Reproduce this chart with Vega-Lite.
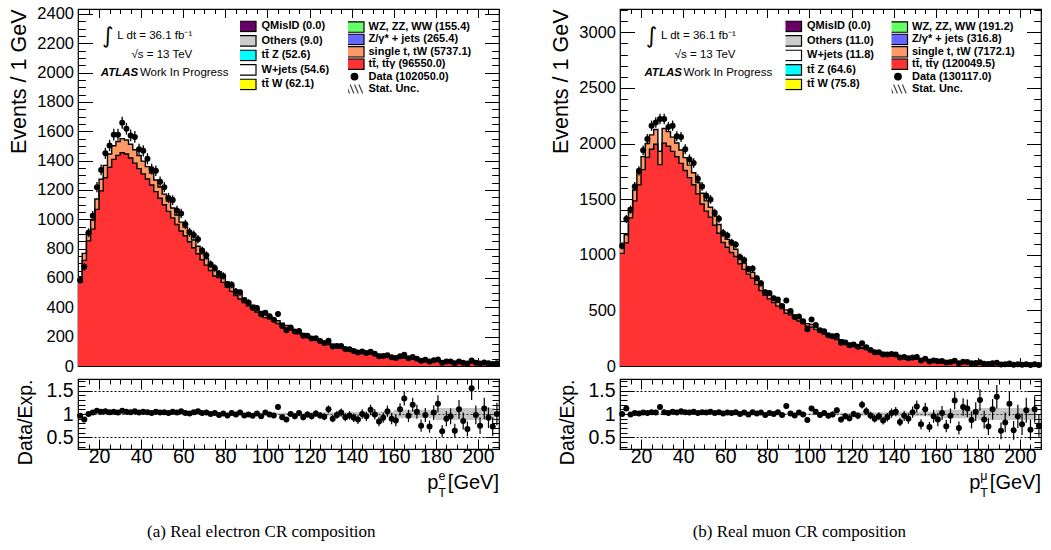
{
"$schema": "https://vega.github.io/schema/vega-lite/v6.json",
"background": "white",
"padding": {"left": 8, "top": 1, "right": 2, "bottom": 2},
"config": {
  "font": "Liberation Sans",
  "view": {"stroke": "black", "strokeWidth": 1.2},
  "axis": {"domain": false, "grid": false, "labelFont": "Liberation Sans", "titleFont": "Liberation Sans", "labelColor": "black", "titleColor": "black", "tickColor": "black", "tickWidth": 1, "labelOverlap": false, "labelFlush": false, "titleFontWeight": "normal"},
  "legend": {"labelFont": "Liberation Sans", "labelFontWeight": "bold", "labelFontSize": 11, "labelColor": "black", "symbolStrokeWidth": 1.2, "symbolOpacity": 1},
  "text": {"font": "Liberation Sans"}
},
"datasets": {
"ele": [
{"x":11,"tt":570,"tot":608,"d":584,"e":24,"r":0.96,"re":0.04,"lo":0.99,"hi":1.01},
{"x":13,"tt":720,"tot":768,"d":676,"e":26,"r":0.88,"re":0.034,"lo":0.99,"hi":1.01},
{"x":15,"tt":853,"tot":909,"d":909,"e":30,"r":1.0,"re":0.033,"lo":0.99,"hi":1.01},
{"x":17,"tt":933,"tot":995,"d":1025,"e":32,"r":1.03,"re":0.032,"lo":0.99,"hi":1.01},
{"x":19,"tt":1068,"tot":1139,"d":1219,"e":35,"r":1.07,"re":0.031,"lo":0.99,"hi":1.01},
{"x":21,"tt":1194,"tot":1273,"d":1337,"e":37,"r":1.05,"re":0.029,"lo":0.99,"hi":1.01},
{"x":23,"tt":1283,"tot":1368,"d":1450,"e":38,"r":1.06,"re":0.028,"lo":0.99,"hi":1.01},
{"x":25,"tt":1355,"tot":1445,"d":1503,"e":39,"r":1.04,"re":0.027,"lo":0.99,"hi":1.01},
{"x":27,"tt":1409,"tot":1502,"d":1577,"e":40,"r":1.05,"re":0.026,"lo":0.99,"hi":1.01},
{"x":29,"tt":1436,"tot":1531,"d":1577,"e":40,"r":1.03,"re":0.026,"lo":0.99,"hi":1.01},
{"x":31,"tt":1454,"tot":1550,"d":1659,"e":41,"r":1.07,"re":0.026,"lo":0.99,"hi":1.01},
{"x":33,"tt":1445,"tot":1541,"d":1618,"e":40,"r":1.05,"re":0.026,"lo":0.99,"hi":1.01},
{"x":35,"tt":1418,"tot":1512,"d":1572,"e":40,"r":1.04,"re":0.026,"lo":0.99,"hi":1.01},
{"x":37,"tt":1383,"tot":1474,"d":1562,"e":40,"r":1.06,"re":0.027,"lo":0.99,"hi":1.01},
{"x":39,"tt":1346,"tot":1435,"d":1478,"e":38,"r":1.03,"re":0.027,"lo":0.99,"hi":1.01},
{"x":41,"tt":1310,"tot":1397,"d":1467,"e":38,"r":1.05,"re":0.027,"lo":0.99,"hi":1.01},
{"x":43,"tt":1275,"tot":1359,"d":1413,"e":38,"r":1.04,"re":0.028,"lo":0.99,"hi":1.01},
{"x":45,"tt":1234,"tot":1316,"d":1342,"e":37,"r":1.02,"re":0.028,"lo":0.99,"hi":1.01},
{"x":47,"tt":1189,"tot":1268,"d":1331,"e":36,"r":1.05,"re":0.029,"lo":0.99,"hi":1.01},
{"x":49,"tt":1144,"tot":1220,"d":1257,"e":35,"r":1.03,"re":0.029,"lo":0.99,"hi":1.01},
{"x":51,"tt":1099,"tot":1172,"d":1219,"e":35,"r":1.04,"re":0.03,"lo":0.99,"hi":1.01},
{"x":53,"tt":1054,"tot":1124,"d":1146,"e":34,"r":1.02,"re":0.03,"lo":0.99,"hi":1.01},
{"x":55,"tt":1010,"tot":1077,"d":1131,"e":34,"r":1.05,"re":0.031,"lo":0.99,"hi":1.01},
{"x":57,"tt":965,"tot":1029,"d":1060,"e":33,"r":1.03,"re":0.032,"lo":0.99,"hi":1.01},
{"x":59,"tt":920,"tot":981,"d":1040,"e":32,"r":1.06,"re":0.033,"lo":0.99,"hi":1.01},
{"x":61,"tt":888,"tot":947,"d":966,"e":31,"r":1.02,"re":0.033,"lo":0.985,"hi":1.015},
{"x":63,"tt":847,"tot":903,"d":912,"e":30,"r":1.01,"re":0.033,"lo":0.985,"hi":1.015},
{"x":65,"tt":806,"tot":859,"d":893,"e":30,"r":1.04,"re":0.035,"lo":0.985,"hi":1.015},
{"x":67,"tt":765,"tot":816,"d":865,"e":29,"r":1.06,"re":0.036,"lo":0.985,"hi":1.015},
{"x":69,"tt":724,"tot":772,"d":787,"e":28,"r":1.02,"re":0.036,"lo":0.985,"hi":1.015},
{"x":71,"tt":688,"tot":733,"d":755,"e":27,"r":1.03,"re":0.037,"lo":0.985,"hi":1.015},
{"x":73,"tt":651,"tot":694,"d":694,"e":26,"r":1.0,"re":0.038,"lo":0.985,"hi":1.015},
{"x":75,"tt":614,"tot":655,"d":668,"e":26,"r":1.02,"re":0.039,"lo":0.985,"hi":1.015},
{"x":77,"tt":603,"tot":643,"d":630,"e":25,"r":0.98,"re":0.039,"lo":0.985,"hi":1.015},
{"x":79,"tt":570,"tot":608,"d":614,"e":25,"r":1.01,"re":0.041,"lo":0.985,"hi":1.015},
{"x":81,"tt":537,"tot":573,"d":556,"e":24,"r":0.97,"re":0.041,"lo":0.985,"hi":1.015},
{"x":83,"tt":509,"tot":543,"d":554,"e":24,"r":1.02,"re":0.043,"lo":0.985,"hi":1.015},
{"x":85,"tt":481,"tot":513,"d":508,"e":23,"r":0.99,"re":0.044,"lo":0.985,"hi":1.015},
{"x":87,"tt":457,"tot":487,"d":502,"e":22,"r":1.03,"re":0.046,"lo":0.985,"hi":1.015},
{"x":89,"tt":433,"tot":462,"d":448,"e":21,"r":0.97,"re":0.046,"lo":0.985,"hi":1.015},
{"x":91,"tt":410,"tot":437,"d":433,"e":21,"r":0.99,"re":0.048,"lo":0.985,"hi":1.015},
{"x":93,"tt":388,"tot":414,"d":397,"e":20,"r":0.96,"re":0.048,"lo":0.985,"hi":1.015},
{"x":95,"tt":368,"tot":392,"d":396,"e":20,"r":1.01,"re":0.051,"lo":0.985,"hi":1.015},
{"x":97,"tt":349,"tot":372,"d":353,"e":19,"r":0.95,"re":0.051,"lo":0.985,"hi":1.015},
{"x":99,"tt":330,"tot":352,"d":363,"e":19,"r":1.03,"re":0.054,"lo":0.985,"hi":1.015},
{"x":101,"tt":321,"tot":342,"d":339,"e":18,"r":0.99,"re":0.054,"lo":0.975,"hi":1.025},
{"x":103,"tt":305,"tot":325,"d":315,"e":18,"r":0.97,"re":0.055,"lo":0.975,"hi":1.025},
{"x":105,"tt":290,"tot":309,"d":355,"e":19,"r":1.15,"re":0.061,"lo":0.975,"hi":1.025},
{"x":107,"tt":274,"tot":292,"d":272,"e":16,"r":0.93,"re":0.056,"lo":0.975,"hi":1.025},
{"x":109,"tt":259,"tot":276,"d":243,"e":16,"r":0.88,"re":0.056,"lo":0.975,"hi":1.025},
{"x":111,"tt":246,"tot":262,"d":262,"e":16,"r":1.0,"re":0.062,"lo":0.975,"hi":1.025},
{"x":113,"tt":232,"tot":247,"d":235,"e":15,"r":0.95,"re":0.062,"lo":0.975,"hi":1.025},
{"x":115,"tt":219,"tot":234,"d":239,"e":15,"r":1.02,"re":0.066,"lo":0.975,"hi":1.025},
{"x":117,"tt":208,"tot":222,"d":206,"e":14,"r":0.93,"re":0.065,"lo":0.975,"hi":1.025},
{"x":119,"tt":196,"tot":209,"d":207,"e":14,"r":0.99,"re":0.069,"lo":0.975,"hi":1.025},
{"x":121,"tt":186,"tot":198,"d":188,"e":14,"r":0.95,"re":0.069,"lo":0.965,"hi":1.035},
{"x":123,"tt":175,"tot":187,"d":189,"e":14,"r":1.01,"re":0.073,"lo":0.965,"hi":1.035},
{"x":125,"tt":165,"tot":176,"d":171,"e":13,"r":0.97,"re":0.074,"lo":0.965,"hi":1.035},
{"x":127,"tt":156,"tot":166,"d":156,"e":12,"r":0.94,"re":0.075,"lo":0.965,"hi":1.035},
{"x":129,"tt":147,"tot":157,"d":173,"e":13,"r":1.1,"re":0.084,"lo":0.965,"hi":1.035},
{"x":131,"tt":139,"tot":148,"d":133,"e":12,"r":0.9,"re":0.078,"lo":0.965,"hi":1.035},
{"x":133,"tt":131,"tot":140,"d":137,"e":12,"r":0.98,"re":0.084,"lo":0.965,"hi":1.035},
{"x":135,"tt":124,"tot":132,"d":136,"e":12,"r":1.03,"re":0.088,"lo":0.965,"hi":1.035},
{"x":137,"tt":117,"tot":125,"d":116,"e":11,"r":0.93,"re":0.086,"lo":0.965,"hi":1.035},
{"x":139,"tt":111,"tot":118,"d":114,"e":11,"r":0.97,"re":0.091,"lo":0.965,"hi":1.035},
{"x":141,"tt":104,"tot":111,"d":102,"e":10,"r":0.92,"re":0.091,"lo":0.95,"hi":1.05},
{"x":143,"tt":98,"tot":105,"d":92,"e":10,"r":0.88,"re":0.092,"lo":0.95,"hi":1.05},
{"x":145,"tt":93,"tot":99,"d":99,"e":10,"r":1.0,"re":0.1,"lo":0.95,"hi":1.05},
{"x":147,"tt":88,"tot":94,"d":89,"e":9,"r":0.95,"re":0.1,"lo":0.95,"hi":1.05},
{"x":149,"tt":83,"tot":89,"d":97,"e":10,"r":1.09,"re":0.11,"lo":0.95,"hi":1.05},
{"x":151,"tt":79,"tot":84,"d":83,"e":9,"r":0.99,"re":0.11,"lo":0.95,"hi":1.05},
{"x":153,"tt":74,"tot":79,"d":66,"e":8,"r":0.84,"re":0.1,"lo":0.95,"hi":1.05},
{"x":155,"tt":69,"tot":74,"d":68,"e":8,"r":0.92,"re":0.11,"lo":0.95,"hi":1.05},
{"x":157,"tt":66,"tot":70,"d":74,"e":9,"r":1.06,"re":0.12,"lo":0.95,"hi":1.05},
{"x":159,"tt":62,"tot":66,"d":59,"e":8,"r":0.9,"re":0.12,"lo":0.95,"hi":1.05},
{"x":161,"tt":60,"tot":64,"d":55,"e":7,"r":0.86,"re":0.12,"lo":0.91,"hi":1.09},
{"x":163,"tt":57,"tot":61,"d":67,"e":8,"r":1.1,"re":0.13,"lo":0.91,"hi":1.09},
{"x":165,"tt":54,"tot":58,"d":77,"e":9,"r":1.33,"re":0.15,"lo":0.91,"hi":1.09},
{"x":167,"tt":52,"tot":55,"d":53,"e":7,"r":0.96,"re":0.13,"lo":0.91,"hi":1.09},
{"x":169,"tt":49,"tot":52,"d":62,"e":8,"r":1.2,"re":0.15,"lo":0.91,"hi":1.09},
{"x":171,"tt":45,"tot":48,"d":50,"e":7,"r":1.05,"re":0.15,"lo":0.91,"hi":1.09},
{"x":173,"tt":43,"tot":46,"d":35,"e":6,"r":0.75,"re":0.13,"lo":0.91,"hi":1.09},
{"x":175,"tt":40,"tot":43,"d":42,"e":6,"r":0.98,"re":0.15,"lo":0.91,"hi":1.09},
{"x":177,"tt":38,"tot":41,"d":30,"e":5,"r":0.73,"re":0.13,"lo":0.91,"hi":1.09},
{"x":179,"tt":37,"tot":39,"d":40,"e":6,"r":1.03,"re":0.16,"lo":0.91,"hi":1.09},
{"x":181,"tt":35,"tot":37,"d":45,"e":7,"r":1.22,"re":0.18,"lo":0.87,"hi":1.13},
{"x":183,"tt":33,"tot":35,"d":22,"e":5,"r":0.63,"re":0.13,"lo":0.87,"hi":1.13},
{"x":185,"tt":31,"tot":33,"d":30,"e":5,"r":0.9,"re":0.16,"lo":0.87,"hi":1.13},
{"x":187,"tt":30,"tot":32,"d":30,"e":5,"r":0.95,"re":0.17,"lo":0.87,"hi":1.13},
{"x":189,"tt":27,"tot":29,"d":19,"e":4,"r":0.64,"re":0.15,"lo":0.87,"hi":1.13},
{"x":191,"tt":26,"tot":28,"d":31,"e":6,"r":1.1,"re":0.2,"lo":0.87,"hi":1.13},
{"x":193,"tt":24,"tot":26,"d":22,"e":5,"r":0.85,"re":0.18,"lo":0.87,"hi":1.13},
{"x":195,"tt":23,"tot":25,"d":17,"e":4,"r":0.68,"re":0.16,"lo":0.87,"hi":1.13},
{"x":197,"tt":23,"tot":24,"d":37,"e":6,"r":1.55,"re":0.25,"lo":0.87,"hi":1.13},
{"x":199,"tt":22,"tot":23,"d":23,"e":5,"r":0.98,"re":0.2,"lo":0.87,"hi":1.13},
{"x":201,"tt":21,"tot":22,"d":17,"e":4,"r":0.75,"re":0.18,"lo":0.87,"hi":1.13},
{"x":203,"tt":20,"tot":21,"d":24,"e":5,"r":1.12,"re":0.23,"lo":0.87,"hi":1.13},
{"x":205,"tt":19,"tot":20,"d":18,"e":4,"r":0.92,"re":0.22,"lo":0.87,"hi":1.13},
{"x":207,"tt":18,"tot":19,"d":14,"e":4,"r":0.73,"re":0.2,"lo":0.87,"hi":1.13},
{"x":209,"tt":17,"tot":18,"d":18,"e":4,"r":1.0,"re":0.24,"lo":0.87,"hi":1.13}
],
"mu": [
{"x":11,"tt":1013,"tot":1080,"d":1080,"e":33,"r":1.0,"re":0.03,"lo":0.99,"hi":1.01},
{"x":13,"tt":1107,"tot":1180,"d":1322,"e":36,"r":1.12,"re":0.031,"lo":0.99,"hi":1.01},
{"x":15,"tt":1332,"tot":1420,"d":1406,"e":37,"r":0.99,"re":0.026,"lo":0.99,"hi":1.01},
{"x":17,"tt":1485,"tot":1583,"d":1615,"e":40,"r":1.02,"re":0.025,"lo":0.99,"hi":1.01},
{"x":19,"tt":1630,"tot":1738,"d":1755,"e":42,"r":1.01,"re":0.024,"lo":0.99,"hi":1.01},
{"x":21,"tt":1766,"tot":1883,"d":1939,"e":44,"r":1.03,"re":0.023,"lo":0.99,"hi":1.01},
{"x":23,"tt":1876,"tot":2000,"d":2040,"e":45,"r":1.02,"re":0.023,"lo":0.99,"hi":1.01},
{"x":25,"tt":1949,"tot":2078,"d":2161,"e":46,"r":1.04,"re":0.022,"lo":0.99,"hi":1.01},
{"x":27,"tt":1994,"tot":2126,"d":2190,"e":47,"r":1.03,"re":0.022,"lo":0.99,"hi":1.01},
{"x":29,"tt":1811,"tot":1931,"d":2221,"e":47,"r":1.15,"re":0.024,"lo":0.99,"hi":1.01},
{"x":31,"tt":2004,"tot":2136,"d":2221,"e":47,"r":1.04,"re":0.022,"lo":0.99,"hi":1.01},
{"x":33,"tt":1976,"tot":2107,"d":2149,"e":46,"r":1.02,"re":0.022,"lo":0.99,"hi":1.01},
{"x":35,"tt":1930,"tot":2058,"d":2161,"e":46,"r":1.05,"re":0.023,"lo":0.99,"hi":1.01},
{"x":37,"tt":1881,"tot":2005,"d":2065,"e":45,"r":1.03,"re":0.023,"lo":0.99,"hi":1.01},
{"x":39,"tt":1822,"tot":1942,"d":2059,"e":45,"r":1.06,"re":0.023,"lo":0.99,"hi":1.01},
{"x":41,"tt":1758,"tot":1874,"d":1949,"e":44,"r":1.04,"re":0.024,"lo":0.99,"hi":1.01},
{"x":43,"tt":1694,"tot":1806,"d":1860,"e":43,"r":1.03,"re":0.024,"lo":0.99,"hi":1.01},
{"x":45,"tt":1630,"tot":1738,"d":1825,"e":43,"r":1.05,"re":0.025,"lo":0.99,"hi":1.01},
{"x":47,"tt":1548,"tot":1650,"d":1683,"e":41,"r":1.02,"re":0.025,"lo":0.99,"hi":1.01},
{"x":49,"tt":1457,"tot":1553,"d":1615,"e":40,"r":1.04,"re":0.026,"lo":0.99,"hi":1.01},
{"x":51,"tt":1393,"tot":1485,"d":1530,"e":39,"r":1.03,"re":0.026,"lo":0.99,"hi":1.01},
{"x":53,"tt":1339,"tot":1427,"d":1498,"e":39,"r":1.05,"re":0.027,"lo":0.99,"hi":1.01},
{"x":55,"tt":1266,"tot":1350,"d":1377,"e":37,"r":1.02,"re":0.027,"lo":0.99,"hi":1.01},
{"x":57,"tt":1193,"tot":1272,"d":1323,"e":36,"r":1.04,"re":0.029,"lo":0.99,"hi":1.01},
{"x":59,"tt":1111,"tot":1184,"d":1196,"e":35,"r":1.01,"re":0.029,"lo":0.99,"hi":1.01},
{"x":61,"tt":1068,"tot":1139,"d":1173,"e":34,"r":1.03,"re":0.03,"lo":0.985,"hi":1.015},
{"x":63,"tt":1021,"tot":1089,"d":1111,"e":33,"r":1.02,"re":0.031,"lo":0.985,"hi":1.015},
{"x":65,"tt":985,"tot":1050,"d":1092,"e":33,"r":1.04,"re":0.031,"lo":0.985,"hi":1.015},
{"x":67,"tt":919,"tot":980,"d":980,"e":31,"r":1.0,"re":0.032,"lo":0.985,"hi":1.015},
{"x":69,"tt":869,"tot":926,"d":954,"e":31,"r":1.03,"re":0.033,"lo":0.985,"hi":1.015},
{"x":71,"tt":826,"tot":881,"d":872,"e":30,"r":0.99,"re":0.034,"lo":0.985,"hi":1.015},
{"x":73,"tt":790,"tot":842,"d":876,"e":30,"r":1.04,"re":0.035,"lo":0.985,"hi":1.015},
{"x":75,"tt":734,"tot":782,"d":790,"e":28,"r":1.01,"re":0.036,"lo":0.985,"hi":1.015},
{"x":77,"tt":678,"tot":723,"d":745,"e":27,"r":1.03,"re":0.038,"lo":0.985,"hi":1.015},
{"x":79,"tt":636,"tot":678,"d":664,"e":26,"r":0.98,"re":0.038,"lo":0.985,"hi":1.015},
{"x":81,"tt":604,"tot":644,"d":657,"e":26,"r":1.02,"re":0.04,"lo":0.985,"hi":1.015},
{"x":83,"tt":571,"tot":609,"d":609,"e":25,"r":1.0,"re":0.041,"lo":0.985,"hi":1.015},
{"x":85,"tt":538,"tot":574,"d":597,"e":24,"r":1.04,"re":0.043,"lo":0.985,"hi":1.015},
{"x":87,"tt":516,"tot":550,"d":539,"e":23,"r":0.98,"re":0.042,"lo":0.985,"hi":1.015},
{"x":89,"tt":474,"tot":505,"d":590,"e":24,"r":1.17,"re":0.048,"lo":0.985,"hi":1.015},
{"x":91,"tt":460,"tot":490,"d":495,"e":22,"r":1.01,"re":0.045,"lo":0.985,"hi":1.015},
{"x":93,"tt":427,"tot":455,"d":441,"e":21,"r":0.97,"re":0.046,"lo":0.985,"hi":1.015},
{"x":95,"tt":404,"tot":431,"d":444,"e":21,"r":1.03,"re":0.049,"lo":0.985,"hi":1.015},
{"x":97,"tt":381,"tot":406,"d":402,"e":20,"r":0.99,"re":0.049,"lo":0.985,"hi":1.015},
{"x":99,"tt":357,"tot":381,"d":331,"e":18,"r":0.87,"re":0.048,"lo":0.985,"hi":1.015},
{"x":101,"tt":350,"tot":373,"d":418,"e":20,"r":1.12,"re":0.055,"lo":0.975,"hi":1.025},
{"x":103,"tt":329,"tot":351,"d":369,"e":19,"r":1.05,"re":0.055,"lo":0.975,"hi":1.025},
{"x":105,"tt":308,"tot":328,"d":321,"e":18,"r":0.98,"re":0.055,"lo":0.975,"hi":1.025},
{"x":107,"tt":288,"tot":307,"d":313,"e":18,"r":1.02,"re":0.058,"lo":0.975,"hi":1.025},
{"x":109,"tt":271,"tot":289,"d":277,"e":17,"r":0.96,"re":0.058,"lo":0.975,"hi":1.025},
{"x":111,"tt":253,"tot":270,"d":267,"e":16,"r":0.99,"re":0.061,"lo":0.975,"hi":1.025},
{"x":113,"tt":237,"tot":253,"d":273,"e":17,"r":1.08,"re":0.065,"lo":0.975,"hi":1.025},
{"x":115,"tt":222,"tot":237,"d":209,"e":14,"r":0.88,"re":0.061,"lo":0.975,"hi":1.025},
{"x":117,"tt":208,"tot":222,"d":211,"e":15,"r":0.95,"re":0.065,"lo":0.975,"hi":1.025},
{"x":119,"tt":193,"tot":206,"d":187,"e":14,"r":0.91,"re":0.067,"lo":0.975,"hi":1.025},
{"x":121,"tt":182,"tot":194,"d":194,"e":14,"r":1.0,"re":0.072,"lo":0.965,"hi":1.035},
{"x":123,"tt":170,"tot":181,"d":174,"e":13,"r":0.96,"re":0.073,"lo":0.965,"hi":1.035},
{"x":125,"tt":159,"tot":170,"d":204,"e":14,"r":1.2,"re":0.084,"lo":0.965,"hi":1.035},
{"x":127,"tt":149,"tot":159,"d":169,"e":13,"r":1.06,"re":0.082,"lo":0.965,"hi":1.035},
{"x":129,"tt":139,"tot":148,"d":144,"e":12,"r":0.97,"re":0.081,"lo":0.965,"hi":1.035},
{"x":131,"tt":129,"tot":138,"d":124,"e":11,"r":0.9,"re":0.081,"lo":0.965,"hi":1.035},
{"x":133,"tt":121,"tot":129,"d":123,"e":11,"r":0.95,"re":0.086,"lo":0.965,"hi":1.035},
{"x":135,"tt":114,"tot":121,"d":104,"e":10,"r":0.86,"re":0.084,"lo":0.965,"hi":1.035},
{"x":137,"tt":105,"tot":112,"d":104,"e":10,"r":0.93,"re":0.091,"lo":0.965,"hi":1.035},
{"x":139,"tt":98,"tot":105,"d":107,"e":10,"r":1.02,"re":0.099,"lo":0.965,"hi":1.035},
{"x":141,"tt":92,"tot":98,"d":103,"e":10,"r":1.05,"re":0.1,"lo":0.95,"hi":1.05},
{"x":143,"tt":85,"tot":91,"d":76,"e":9,"r":0.83,"re":0.095,"lo":0.95,"hi":1.05},
{"x":145,"tt":80,"tot":85,"d":82,"e":9,"r":0.96,"re":0.11,"lo":0.95,"hi":1.05},
{"x":147,"tt":73,"tot":78,"d":70,"e":8,"r":0.9,"re":0.11,"lo":0.95,"hi":1.05},
{"x":149,"tt":68,"tot":73,"d":76,"e":9,"r":1.04,"re":0.12,"lo":0.95,"hi":1.05},
{"x":151,"tt":65,"tot":69,"d":80,"e":9,"r":1.16,"re":0.13,"lo":0.95,"hi":1.05},
{"x":153,"tt":60,"tot":64,"d":50,"e":7,"r":0.78,"re":0.11,"lo":0.95,"hi":1.05},
{"x":155,"tt":56,"tot":60,"d":66,"e":8,"r":1.1,"re":0.14,"lo":0.95,"hi":1.05},
{"x":157,"tt":53,"tot":56,"d":40,"e":6,"r":0.72,"re":0.11,"lo":0.95,"hi":1.05},
{"x":159,"tt":49,"tot":52,"d":49,"e":7,"r":0.95,"re":0.14,"lo":0.95,"hi":1.05},
{"x":161,"tt":45,"tot":48,"d":42,"e":6,"r":0.88,"re":0.14,"lo":0.91,"hi":1.09},
{"x":163,"tt":42,"tot":45,"d":46,"e":7,"r":1.02,"re":0.15,"lo":0.91,"hi":1.09},
{"x":165,"tt":39,"tot":42,"d":31,"e":6,"r":0.74,"re":0.13,"lo":0.91,"hi":1.09},
{"x":167,"tt":37,"tot":39,"d":37,"e":6,"r":0.96,"re":0.16,"lo":0.91,"hi":1.09},
{"x":169,"tt":35,"tot":37,"d":48,"e":7,"r":1.29,"re":0.19,"lo":0.91,"hi":1.09},
{"x":171,"tt":33,"tot":35,"d":25,"e":5,"r":0.7,"re":0.14,"lo":0.91,"hi":1.09},
{"x":173,"tt":31,"tot":33,"d":38,"e":6,"r":1.15,"re":0.19,"lo":0.91,"hi":1.09},
{"x":175,"tt":29,"tot":31,"d":35,"e":6,"r":1.12,"re":0.19,"lo":0.91,"hi":1.09},
{"x":177,"tt":26,"tot":28,"d":24,"e":5,"r":0.87,"re":0.18,"lo":0.91,"hi":1.09},
{"x":179,"tt":25,"tot":27,"d":28,"e":5,"r":1.05,"re":0.2,"lo":0.91,"hi":1.09},
{"x":181,"tt":23,"tot":25,"d":33,"e":6,"r":1.3,"re":0.23,"lo":0.87,"hi":1.13},
{"x":183,"tt":23,"tot":24,"d":21,"e":5,"r":0.88,"re":0.19,"lo":0.87,"hi":1.13},
{"x":185,"tt":22,"tot":23,"d":17,"e":4,"r":0.73,"re":0.18,"lo":0.87,"hi":1.13},
{"x":187,"tt":21,"tot":22,"d":24,"e":5,"r":1.1,"re":0.22,"lo":0.87,"hi":1.13},
{"x":189,"tt":20,"tot":21,"d":29,"e":5,"r":1.37,"re":0.25,"lo":0.87,"hi":1.13},
{"x":191,"tt":19,"tot":20,"d":13,"e":4,"r":0.64,"re":0.18,"lo":0.87,"hi":1.13},
{"x":193,"tt":18,"tot":19,"d":16,"e":4,"r":0.82,"re":0.21,"lo":0.87,"hi":1.13},
{"x":195,"tt":17,"tot":18,"d":22,"e":5,"r":1.22,"re":0.26,"lo":0.87,"hi":1.13},
{"x":197,"tt":16,"tot":17,"d":11,"e":3,"r":0.65,"re":0.2,"lo":0.87,"hi":1.13},
{"x":199,"tt":15,"tot":16,"d":15,"e":4,"r":0.95,"re":0.25,"lo":0.87,"hi":1.13},
{"x":201,"tt":15,"tot":16,"d":12,"e":3,"r":0.78,"re":0.23,"lo":0.87,"hi":1.13},
{"x":203,"tt":14,"tot":15,"d":16,"e":4,"r":1.08,"re":0.27,"lo":0.87,"hi":1.13},
{"x":205,"tt":13,"tot":14,"d":9,"e":3,"r":0.66,"re":0.22,"lo":0.87,"hi":1.13},
{"x":207,"tt":13,"tot":14,"d":15,"e":4,"r":1.1,"re":0.28,"lo":0.87,"hi":1.13},
{"x":209,"tt":12,"tot":13,"d":10,"e":3,"r":0.75,"re":0.24,"lo":0.87,"hi":1.13}
],
"legAe": [{"lab": "QMisID (0.0)"}, {"lab": "Others (9.0)"}, {"lab": "tt\u0304 Z (52.6)"}, {"lab": "W+jets (54.6)"}, {"lab": "tt\u0304 W (62.1)"}],
"legBe": [{"lab": "WZ, ZZ, WW (155.4)"}, {"lab": "Z/γ* + jets (265.4)"}, {"lab": "single t, tW (5737.1)"}, {"lab": "tt\u0304, tt\u0304γ (96550.0)"}, {"lab": "Data (102050.0)"}, {"lab": "Stat. Unc."}],
"legAm": [{"lab": "QMisID (0.0)"}, {"lab": "Others (11.0)"}, {"lab": "W+jets (11.8)"}, {"lab": "tt\u0304 Z (64.6)"}, {"lab": "tt\u0304 W (75.8)"}],
"legBm": [{"lab": "WZ, ZZ, WW (191.2)"}, {"lab": "Z/γ* + jets (316.8)"}, {"lab": "single t, tW (7172.1)"}, {"lab": "tt\u0304, tt\u0304γ (120049.5)"}, {"lab": "Data (130117.0)"}, {"lab": "Stat. Unc."}]
},
"spacing": 49,
"hconcat": [
{
 "spacing": -6,
 "title": {"text": "(a) Real electron CR composition", "orient": "bottom", "anchor": "middle", "font": "Liberation Serif", "fontSize": 17, "fontWeight": "normal", "color": "black", "offset": 24, "dx": 7},
 "vconcat": [
  {
   "width": 421, "height": 357,
   "data": {"name": "ele"},
   "resolve": {"scale": {"fill": "independent", "stroke": "independent", "shape": "independent"}, "axis": {"x": "independent", "y": "independent"}},
   "layer": [
    {"mark": {"type": "area", "interpolate": "step-after", "xOffset": -2.105, "color": "#ff9966"},
     "encoding": {
      "x": {"field": "x", "type": "quantitative", "scale": {"domain": [10, 210], "nice": false, "zero": false},
            "axis": {"orient": "top", "values": [10,15,20,25,30,35,40,45,50,55,60,65,70,75,80,85,90,95,100,105,110,115,120,125,130,135,140,145,150,155,160,165,170,175,180,185,190,195,200,205,210], "labels": false, "title": null, "minExtent": 0, "maxExtent": 0, "tickSize": {"condition": {"test": "datum.value % 20 === 0", "value": -8.5}, "value": -4.5}}},
      "y": {"field": "tot", "type": "quantitative", "scale": {"domain": [0, 2434], "nice": false},
            "axis": {"orient": "right", "values": [0,50,100,150,200,250,300,350,400,450,500,550,600,650,700,750,800,850,900,950,1000,1050,1100,1150,1200,1250,1300,1350,1400,1450,1500,1550,1600,1650,1700,1750,1800,1850,1900,1950,2000,2050,2100,2150,2200,2250,2300,2350,2400], "labels": false, "title": null, "minExtent": 0, "maxExtent": 0, "tickSize": {"condition": {"test": "datum.value % 200 === 0", "value": -14.5}, "value": -7.3}}}
     }},
    {"mark": {"type": "area", "interpolate": "step-after", "xOffset": -2.105, "color": "#ff3333"},
     "encoding": {
      "x": {"field": "x", "type": "quantitative",
            "axis": {"orient": "bottom", "values": [10,15,20,25,30,35,40,45,50,55,60,65,70,75,80,85,90,95,100,105,110,115,120,125,130,135,140,145,150,155,160,165,170,175,180,185,190,195,200,205,210], "labels": false, "title": null, "minExtent": 0, "maxExtent": 0, "tickSize": {"condition": {"test": "datum.value % 20 === 0", "value": -8.5}, "value": -4.5}}},
      "y": {"field": "tt", "type": "quantitative",
            "axis": {"orient": "left", "values": [0,50,100,150,200,250,300,350,400,450,500,550,600,650,700,750,800,850,900,950,1000,1050,1100,1150,1200,1250,1300,1350,1400,1450,1500,1550,1600,1650,1700,1750,1800,1850,1900,1950,2000,2050,2100,2150,2200,2250,2300,2350,2400], "format": "d", "labelExpr": "datum.value % 200 === 0 ? datum.label : ''", "tickSize": {"condition": {"test": "datum.value % 200 === 0", "value": -14.5}, "value": -7.3}, "labelPadding": 19, "labelFontSize": 16.5, "title": "Events / 1 GeV", "titleFontSize": 21.5, "titleAnchor": "end", "titlePadding": 6}}
     }},
    {"mark": {"type": "line", "interpolate": "step-after", "xOffset": -2.105, "color": "black", "strokeWidth": 1.4},
     "encoding": {"x": {"field": "x", "type": "quantitative", "axis": null}, "y": {"field": "tt", "type": "quantitative", "axis": null}}},
    {"mark": {"type": "line", "interpolate": "step-after", "xOffset": -2.105, "color": "black", "strokeWidth": 1.4},
     "encoding": {"x": {"field": "x", "type": "quantitative", "axis": null}, "y": {"field": "tot", "type": "quantitative", "axis": null}}},
    {"mark": {"type": "errorbar", "color": "black", "thickness": 1.3},
     "encoding": {"x": {"field": "x", "type": "quantitative", "axis": null}, "y": {"field": "d", "type": "quantitative", "axis": null}, "yError": {"field": "e"}}},
    {"mark": {"type": "point", "filled": true, "color": "black", "size": 36, "opacity": 1},
     "encoding": {"x": {"field": "x", "type": "quantitative", "axis": null}, "y": {"field": "d", "type": "quantitative", "axis": null}}},
    {"data": {"values": [{}]},
     "mark": {"type": "text", "text": "∫", "fontSize": 22, "font": "DejaVu Sans", "align": "center", "baseline": "middle", "fill": "black"},
     "encoding": {"x": {"datum": 24.1, "axis": null}, "y": {"datum": 2253, "axis": null}}},
    {"data": {"values": [{}]},
     "mark": {"type": "text", "text": "L dt = 36.1 fb⁻¹", "fontSize": 11.5, "align": "left", "baseline": "middle", "fill": "black"},
     "encoding": {"x": {"datum": 28.7, "axis": null}, "y": {"datum": 2253, "axis": null}}},
    {"data": {"values": [{}]},
     "mark": {"type": "text", "text": "√s = 13 TeV", "fontSize": 11.5, "align": "left", "baseline": "middle", "fill": "black"},
     "encoding": {"x": {"datum": 35.4, "axis": null}, "y": {"datum": 2117, "axis": null}}},
    {"data": {"values": [{}]},
     "mark": {"type": "text", "text": "ATLAS", "fontSize": 11.5, "fontWeight": "bold", "fontStyle": "italic", "align": "left", "baseline": "middle", "fill": "black"},
     "encoding": {"x": {"datum": 20.8, "axis": null}, "y": {"datum": 1995, "axis": null}}},
    {"data": {"values": [{}]},
     "mark": {"type": "text", "text": "Work In Progress", "fontSize": 11.5, "align": "left", "baseline": "middle", "fill": "black"},
     "encoding": {"x": {"datum": 39.4, "axis": null}, "y": {"datum": 1995, "axis": null}}},
    {"data": {"name": "legAe"},
     "mark": {"type": "point", "filled": true, "opacity": 0},
     "encoding": {
      "fill": {"field": "lab", "type": "nominal", "scale": {"domain": ["QMisID (0.0)", "Others (9.0)", "tt\u0304 Z (52.6)", "W+jets (54.6)", "tt\u0304 W (62.1)"], "range": ["#660066", "#cccccc", "#00ffff", "#ffffff", "#ffff00"]},
               "legend": {"orient": "none", "legendX": 162, "legendY": 11.4, "direction": "vertical", "title": null, "symbolSize": 121, "clipHeight": 12, "rowPadding": 2.5, "labelOffset": 8.5, "symbolOpacity": 1}},
      "stroke": {"field": "lab", "type": "nominal", "scale": {"domain": ["QMisID (0.0)", "Others (9.0)", "tt\u0304 Z (52.6)", "W+jets (54.6)", "tt\u0304 W (62.1)"], "range": ["black", "black", "black", "black", "black"]}},
      "shape": {"field": "lab", "type": "nominal", "scale": {"domain": ["QMisID (0.0)", "Others (9.0)", "tt\u0304 Z (52.6)", "W+jets (54.6)", "tt\u0304 W (62.1)"], "range": ["M-1.73,-0.95H1.73V0.95H-1.73Z", "M-1.73,-0.95H1.73V0.95H-1.73Z", "M-1.73,-0.95H1.73V0.95H-1.73Z", "M-1.73,-0.95H1.73V0.95H-1.73Z", "M-1.73,-0.95H1.73V0.95H-1.73Z"]}}
     }},
    {"data": {"name": "legBe"},
     "mark": {"type": "point", "filled": true, "opacity": 0},
     "encoding": {
      "fill": {"field": "lab", "type": "nominal", "scale": {"domain": ["WZ, ZZ, WW (155.4)", "Z/γ* + jets (265.4)", "single t, tW (5737.1)", "tt\u0304, tt\u0304γ (96550.0)", "Data (102050.0)", "Stat. Unc."], "range": ["#66ff66", "#6666ff", "#ff9966", "#ff3333", "#000000", "#ffffff"]},
               "legend": {"orient": "none", "legendX": 270, "legendY": 12, "direction": "vertical", "title": null, "symbolSize": 121, "clipHeight": 12, "rowPadding": 0.4, "labelOffset": 7.5, "symbolOpacity": 1}},
      "stroke": {"field": "lab", "type": "nominal", "scale": {"domain": ["WZ, ZZ, WW (155.4)", "Z/γ* + jets (265.4)", "single t, tW (5737.1)", "tt\u0304, tt\u0304γ (96550.0)", "Data (102050.0)", "Stat. Unc."], "range": ["black", "black", "black", "black", "black", "#444444"]}},
      "shape": {"field": "lab", "type": "nominal", "scale": {"domain": ["WZ, ZZ, WW (155.4)", "Z/γ* + jets (265.4)", "single t, tW (5737.1)", "tt\u0304, tt\u0304γ (96550.0)", "Data (102050.0)", "Stat. Unc."], "range": ["M-1.73,-0.95H1.73V0.95H-1.73Z", "M-1.73,-0.95H1.73V0.95H-1.73Z", "M-1.73,-0.95H1.73V0.95H-1.73Z", "M-1.73,-0.95H1.73V0.95H-1.73Z", "M0.6,0A0.6,0.6 0 1,1 -0.6,0A0.6,0.6 0 1,1 0.6,0Z", "M-1.6,-0.8L-0.9,0.8M-0.8,-0.8L-0.1,0.8M0,-0.8L0.7,0.8M0.8,-0.8L1.5,0.8"]}}
     }}
   ]
  },
  {
   "width": 421, "height": 70,
   "data": {"name": "ele"},
   "resolve": {"axis": {"x": "independent", "y": "independent"}},
   "layer": [
    {"mark": {"type": "area", "interpolate": "step-after", "xOffset": -2.105, "color": "#808080", "opacity": 0.45},
     "encoding": {
      "x": {"field": "x", "type": "quantitative", "scale": {"domain": [10, 210], "nice": false, "zero": false},
            "axis": {"orient": "bottom", "values": [10,15,20,25,30,35,40,45,50,55,60,65,70,75,80,85,90,95,100,105,110,115,120,125,130,135,140,145,150,155,160,165,170,175,180,185,190,195,200,205,210], "format": "d", "labelExpr": "datum.value % 20 === 0 ? datum.label : ''", "tickSize": {"condition": {"test": "datum.value % 20 === 0", "value": -10}, "value": -5}, "labelPadding": 8, "labelFontSize": 19.5, "title": null}},
      "y": {"field": "lo", "type": "quantitative", "scale": {"domain": [0.25, 1.75], "nice": false, "zero": false},
            "axis": {"orient": "left", "values": [0.3,0.4,0.5,0.6,0.7,0.8,0.9,1,1.1,1.2,1.3,1.4,1.5,1.6,1.7], "format": "~g", "labelExpr": "datum.value == 0.5 || datum.value == 1 || datum.value == 1.5 ? datum.label : ''", "tickSize": {"condition": {"test": "datum.value == 0.5 || datum.value == 1 || datum.value == 1.5", "value": -14}, "value": -7}, "labelPadding": 19, "labelFontSize": 19.5, "grid": true, "gridColor": "black", "gridDash": [2, 2], "gridWidth": 1, "gridOpacity": {"condition": {"test": "datum.value == 0.5 || datum.value == 1 || datum.value == 1.5", "value": 1}, "value": 0}, "title": "Data/Exp.", "titleFontSize": 19.5, "titleAnchor": "end", "titlePadding": 10}},
      "y2": {"field": "hi"}
     }},
    {"mark": {"type": "errorbar", "color": "black", "thickness": 1.2, "clip": true},
     "encoding": {"x": {"field": "x", "type": "quantitative", "axis": null}, "y": {"field": "r", "type": "quantitative", "axis": null}, "yError": {"field": "re"}}},
    {"mark": {"type": "point", "filled": true, "color": "black", "size": 36, "opacity": 1},
     "encoding": {
      "x": {"field": "x", "type": "quantitative", "axis": {"orient": "top", "values": [10,15,20,25,30,35,40,45,50,55,60,65,70,75,80,85,90,95,100,105,110,115,120,125,130,135,140,145,150,155,160,165,170,175,180,185,190,195,200,205,210], "labels": false, "title": null, "minExtent": 0, "maxExtent": 0, "tickSize": {"condition": {"test": "datum.value % 20 === 0", "value": -10}, "value": -5}}},
      "y": {"field": "r", "type": "quantitative", "axis": {"orient": "right", "values": [0.3,0.4,0.5,0.6,0.7,0.8,0.9,1,1.1,1.2,1.3,1.4,1.5,1.6,1.7], "labels": false, "title": null, "minExtent": 0, "maxExtent": 0, "tickSize": {"condition": {"test": "datum.value == 0.5 || datum.value == 1 || datum.value == 1.5", "value": -14}, "value": -7}}}
     }},
    {"data": {"values": [{}]},
     "mark": {"type": "text", "text": "p", "fontSize": 20, "align": "right", "baseline": "middle", "dy": 34, "fill": "black"},
     "encoding": {"x": {"datum": 181.2, "axis": null}, "y": {"datum": 0.25, "axis": null}}},
    {"data": {"values": [{}]},
     "mark": {"type": "text", "text": "e", "fontSize": 12.5, "align": "center", "baseline": "middle", "dy": 27, "fill": "black"},
     "encoding": {"x": {"datum": 182.9, "axis": null}, "y": {"datum": 0.25, "axis": null}}},
    {"data": {"values": [{}]},
     "mark": {"type": "text", "text": "T", "fontSize": 12.5, "align": "center", "baseline": "middle", "dy": 44, "fill": "black"},
     "encoding": {"x": {"datum": 182.9, "axis": null}, "y": {"datum": 0.25, "axis": null}}},
    {"data": {"values": [{}]},
     "mark": {"type": "text", "text": "[GeV]", "fontSize": 20, "align": "right", "baseline": "middle", "dy": 34, "fill": "black"},
     "encoding": {"x": {"datum": 210, "axis": null}, "y": {"datum": 0.25, "axis": null}}}
   ]
  }
 ]
},
{
 "spacing": -6,
 "title": {"text": "(b) Real muon CR composition", "orient": "bottom", "anchor": "middle", "font": "Liberation Serif", "fontSize": 17, "fontWeight": "normal", "color": "black", "offset": 24, "dx": 3},
 "vconcat": [
  {
   "width": 421, "height": 357,
   "data": {"name": "mu"},
   "resolve": {"scale": {"fill": "independent", "stroke": "independent", "shape": "independent"}, "axis": {"x": "independent", "y": "independent"}},
   "layer": [
    {"mark": {"type": "area", "interpolate": "step-after", "xOffset": -2.105, "color": "#ff9966"},
     "encoding": {
      "x": {"field": "x", "type": "quantitative", "scale": {"domain": [10, 210], "nice": false, "zero": false},
            "axis": {"orient": "top", "values": [10,15,20,25,30,35,40,45,50,55,60,65,70,75,80,85,90,95,100,105,110,115,120,125,130,135,140,145,150,155,160,165,170,175,180,185,190,195,200,205,210], "labels": false, "title": null, "minExtent": 0, "maxExtent": 0, "tickSize": {"condition": {"test": "datum.value % 20 === 0", "value": -8.5}, "value": -4.5}}},
      "y": {"field": "tot", "type": "quantitative", "scale": {"domain": [0, 3210], "nice": false},
            "axis": {"orient": "right", "values": [0,100,200,300,400,500,600,700,800,900,1000,1100,1200,1300,1400,1500,1600,1700,1800,1900,2000,2100,2200,2300,2400,2500,2600,2700,2800,2900,3000,3100,3200], "labels": false, "title": null, "minExtent": 0, "maxExtent": 0, "tickSize": {"condition": {"test": "datum.value % 500 === 0", "value": -14.5}, "value": -7.3}}}
     }},
    {"mark": {"type": "area", "interpolate": "step-after", "xOffset": -2.105, "color": "#ff3333"},
     "encoding": {
      "x": {"field": "x", "type": "quantitative",
            "axis": {"orient": "bottom", "values": [10,15,20,25,30,35,40,45,50,55,60,65,70,75,80,85,90,95,100,105,110,115,120,125,130,135,140,145,150,155,160,165,170,175,180,185,190,195,200,205,210], "labels": false, "title": null, "minExtent": 0, "maxExtent": 0, "tickSize": {"condition": {"test": "datum.value % 20 === 0", "value": -8.5}, "value": -4.5}}},
      "y": {"field": "tt", "type": "quantitative",
            "axis": {"orient": "left", "values": [0,100,200,300,400,500,600,700,800,900,1000,1100,1200,1300,1400,1500,1600,1700,1800,1900,2000,2100,2200,2300,2400,2500,2600,2700,2800,2900,3000,3100,3200], "format": "d", "labelExpr": "datum.value % 500 === 0 ? datum.label : ''", "tickSize": {"condition": {"test": "datum.value % 500 === 0", "value": -14.5}, "value": -7.3}, "labelPadding": 19, "labelFontSize": 16.5, "title": "Events / 1 GeV", "titleFontSize": 21.5, "titleAnchor": "end", "titlePadding": 6}}
     }},
    {"mark": {"type": "line", "interpolate": "step-after", "xOffset": -2.105, "color": "black", "strokeWidth": 1.4},
     "encoding": {"x": {"field": "x", "type": "quantitative", "axis": null}, "y": {"field": "tt", "type": "quantitative", "axis": null}}},
    {"mark": {"type": "line", "interpolate": "step-after", "xOffset": -2.105, "color": "black", "strokeWidth": 1.4},
     "encoding": {"x": {"field": "x", "type": "quantitative", "axis": null}, "y": {"field": "tot", "type": "quantitative", "axis": null}}},
    {"mark": {"type": "errorbar", "color": "black", "thickness": 1.3},
     "encoding": {"x": {"field": "x", "type": "quantitative", "axis": null}, "y": {"field": "d", "type": "quantitative", "axis": null}, "yError": {"field": "e"}}},
    {"mark": {"type": "point", "filled": true, "color": "black", "size": 36, "opacity": 1},
     "encoding": {"x": {"field": "x", "type": "quantitative", "axis": null}, "y": {"field": "d", "type": "quantitative", "axis": null}}},
    {"data": {"values": [{}]},
     "mark": {"type": "text", "text": "∫", "fontSize": 22, "font": "DejaVu Sans", "align": "center", "baseline": "middle", "fill": "black"},
     "encoding": {"x": {"datum": 24.9, "axis": null}, "y": {"datum": 2971, "axis": null}}},
    {"data": {"values": [{}]},
     "mark": {"type": "text", "text": "L dt = 36.1 fb⁻¹", "fontSize": 11.5, "align": "left", "baseline": "middle", "fill": "black"},
     "encoding": {"x": {"datum": 29.5, "axis": null}, "y": {"datum": 2971, "axis": null}}},
    {"data": {"values": [{}]},
     "mark": {"type": "text", "text": "√s = 13 TeV", "fontSize": 11.5, "align": "left", "baseline": "middle", "fill": "black"},
     "encoding": {"x": {"datum": 36.0, "axis": null}, "y": {"datum": 2793, "axis": null}}},
    {"data": {"values": [{}]},
     "mark": {"type": "text", "text": "ATLAS", "fontSize": 11.5, "fontWeight": "bold", "fontStyle": "italic", "align": "left", "baseline": "middle", "fill": "black"},
     "encoding": {"x": {"datum": 21.6, "axis": null}, "y": {"datum": 2632, "axis": null}}},
    {"data": {"values": [{}]},
     "mark": {"type": "text", "text": "Work In Progress", "fontSize": 11.5, "align": "left", "baseline": "middle", "fill": "black"},
     "encoding": {"x": {"datum": 40.2, "axis": null}, "y": {"datum": 2632, "axis": null}}},
    {"data": {"name": "legAm"},
     "mark": {"type": "point", "filled": true, "opacity": 0},
     "encoding": {
      "fill": {"field": "lab", "type": "nominal", "scale": {"domain": ["QMisID (0.0)", "Others (11.0)", "W+jets (11.8)", "tt\u0304 Z (64.6)", "tt\u0304 W (75.8)"], "range": ["#660066", "#cccccc", "#ffffff", "#00ffff", "#ffff00"]},
               "legend": {"orient": "none", "legendX": 165.5, "legendY": 11.4, "direction": "vertical", "title": null, "symbolSize": 121, "clipHeight": 12, "rowPadding": 2.5, "labelOffset": 8.5, "symbolOpacity": 1}},
      "stroke": {"field": "lab", "type": "nominal", "scale": {"domain": ["QMisID (0.0)", "Others (11.0)", "W+jets (11.8)", "tt\u0304 Z (64.6)", "tt\u0304 W (75.8)"], "range": ["black", "black", "black", "black", "black"]}},
      "shape": {"field": "lab", "type": "nominal", "scale": {"domain": ["QMisID (0.0)", "Others (11.0)", "W+jets (11.8)", "tt\u0304 Z (64.6)", "tt\u0304 W (75.8)"], "range": ["M-1.73,-0.95H1.73V0.95H-1.73Z", "M-1.73,-0.95H1.73V0.95H-1.73Z", "M-1.73,-0.95H1.73V0.95H-1.73Z", "M-1.73,-0.95H1.73V0.95H-1.73Z", "M-1.73,-0.95H1.73V0.95H-1.73Z"]}}
     }},
    {"data": {"name": "legBm"},
     "mark": {"type": "point", "filled": true, "opacity": 0},
     "encoding": {
      "fill": {"field": "lab", "type": "nominal", "scale": {"domain": ["WZ, ZZ, WW (191.2)", "Z/γ* + jets (316.8)", "single t, tW (7172.1)", "tt\u0304, tt\u0304γ (120049.5)", "Data (130117.0)", "Stat. Unc."], "range": ["#66ff66", "#6666ff", "#ff9966", "#ff3333", "#000000", "#ffffff"]},
               "legend": {"orient": "none", "legendX": 271.5, "legendY": 12, "direction": "vertical", "title": null, "symbolSize": 121, "clipHeight": 12, "rowPadding": 0.4, "labelOffset": 7.5, "symbolOpacity": 1}},
      "stroke": {"field": "lab", "type": "nominal", "scale": {"domain": ["WZ, ZZ, WW (191.2)", "Z/γ* + jets (316.8)", "single t, tW (7172.1)", "tt\u0304, tt\u0304γ (120049.5)", "Data (130117.0)", "Stat. Unc."], "range": ["black", "black", "black", "black", "black", "#444444"]}},
      "shape": {"field": "lab", "type": "nominal", "scale": {"domain": ["WZ, ZZ, WW (191.2)", "Z/γ* + jets (316.8)", "single t, tW (7172.1)", "tt\u0304, tt\u0304γ (120049.5)", "Data (130117.0)", "Stat. Unc."], "range": ["M-1.73,-0.95H1.73V0.95H-1.73Z", "M-1.73,-0.95H1.73V0.95H-1.73Z", "M-1.73,-0.95H1.73V0.95H-1.73Z", "M-1.73,-0.95H1.73V0.95H-1.73Z", "M0.6,0A0.6,0.6 0 1,1 -0.6,0A0.6,0.6 0 1,1 0.6,0Z", "M-1.6,-0.8L-0.9,0.8M-0.8,-0.8L-0.1,0.8M0,-0.8L0.7,0.8M0.8,-0.8L1.5,0.8"]}}
     }}
   ]
  },
  {
   "width": 421, "height": 70,
   "data": {"name": "mu"},
   "resolve": {"axis": {"x": "independent", "y": "independent"}},
   "layer": [
    {"mark": {"type": "area", "interpolate": "step-after", "xOffset": -2.105, "color": "#808080", "opacity": 0.45},
     "encoding": {
      "x": {"field": "x", "type": "quantitative", "scale": {"domain": [10, 210], "nice": false, "zero": false},
            "axis": {"orient": "bottom", "values": [10,15,20,25,30,35,40,45,50,55,60,65,70,75,80,85,90,95,100,105,110,115,120,125,130,135,140,145,150,155,160,165,170,175,180,185,190,195,200,205,210], "format": "d", "labelExpr": "datum.value % 20 === 0 ? datum.label : ''", "tickSize": {"condition": {"test": "datum.value % 20 === 0", "value": -10}, "value": -5}, "labelPadding": 8, "labelFontSize": 19.5, "title": null}},
      "y": {"field": "lo", "type": "quantitative", "scale": {"domain": [0.25, 1.75], "nice": false, "zero": false},
            "axis": {"orient": "left", "values": [0.3,0.4,0.5,0.6,0.7,0.8,0.9,1,1.1,1.2,1.3,1.4,1.5,1.6,1.7], "format": "~g", "labelExpr": "datum.value == 0.5 || datum.value == 1 || datum.value == 1.5 ? datum.label : ''", "tickSize": {"condition": {"test": "datum.value == 0.5 || datum.value == 1 || datum.value == 1.5", "value": -14}, "value": -7}, "labelPadding": 19, "labelFontSize": 19.5, "grid": true, "gridColor": "black", "gridDash": [2, 2], "gridWidth": 1, "gridOpacity": {"condition": {"test": "datum.value == 0.5 || datum.value == 1 || datum.value == 1.5", "value": 1}, "value": 0}, "title": "Data/Exp.", "titleFontSize": 19.5, "titleAnchor": "end", "titlePadding": 10}},
      "y2": {"field": "hi"}
     }},
    {"mark": {"type": "errorbar", "color": "black", "thickness": 1.2, "clip": true},
     "encoding": {"x": {"field": "x", "type": "quantitative", "axis": null}, "y": {"field": "r", "type": "quantitative", "axis": null}, "yError": {"field": "re"}}},
    {"mark": {"type": "point", "filled": true, "color": "black", "size": 36, "opacity": 1},
     "encoding": {
      "x": {"field": "x", "type": "quantitative", "axis": {"orient": "top", "values": [10,15,20,25,30,35,40,45,50,55,60,65,70,75,80,85,90,95,100,105,110,115,120,125,130,135,140,145,150,155,160,165,170,175,180,185,190,195,200,205,210], "labels": false, "title": null, "minExtent": 0, "maxExtent": 0, "tickSize": {"condition": {"test": "datum.value % 20 === 0", "value": -10}, "value": -5}}},
      "y": {"field": "r", "type": "quantitative", "axis": {"orient": "right", "values": [0.3,0.4,0.5,0.6,0.7,0.8,0.9,1,1.1,1.2,1.3,1.4,1.5,1.6,1.7], "labels": false, "title": null, "minExtent": 0, "maxExtent": 0, "tickSize": {"condition": {"test": "datum.value == 0.5 || datum.value == 1 || datum.value == 1.5", "value": -14}, "value": -7}}}
     }},
    {"data": {"values": [{}]},
     "mark": {"type": "text", "text": "p", "fontSize": 20, "align": "right", "baseline": "middle", "dy": 34, "fill": "black"},
     "encoding": {"x": {"datum": 181.2, "axis": null}, "y": {"datum": 0.25, "axis": null}}},
    {"data": {"values": [{}]},
     "mark": {"type": "text", "text": "μ", "fontSize": 12.5, "align": "center", "baseline": "middle", "dy": 27, "fill": "black"},
     "encoding": {"x": {"datum": 182.9, "axis": null}, "y": {"datum": 0.25, "axis": null}}},
    {"data": {"values": [{}]},
     "mark": {"type": "text", "text": "T", "fontSize": 12.5, "align": "center", "baseline": "middle", "dy": 44, "fill": "black"},
     "encoding": {"x": {"datum": 182.9, "axis": null}, "y": {"datum": 0.25, "axis": null}}},
    {"data": {"values": [{}]},
     "mark": {"type": "text", "text": "[GeV]", "fontSize": 20, "align": "right", "baseline": "middle", "dy": 34, "fill": "black"},
     "encoding": {"x": {"datum": 210, "axis": null}, "y": {"datum": 0.25, "axis": null}}}
   ]
  }
 ]
}
]
}
